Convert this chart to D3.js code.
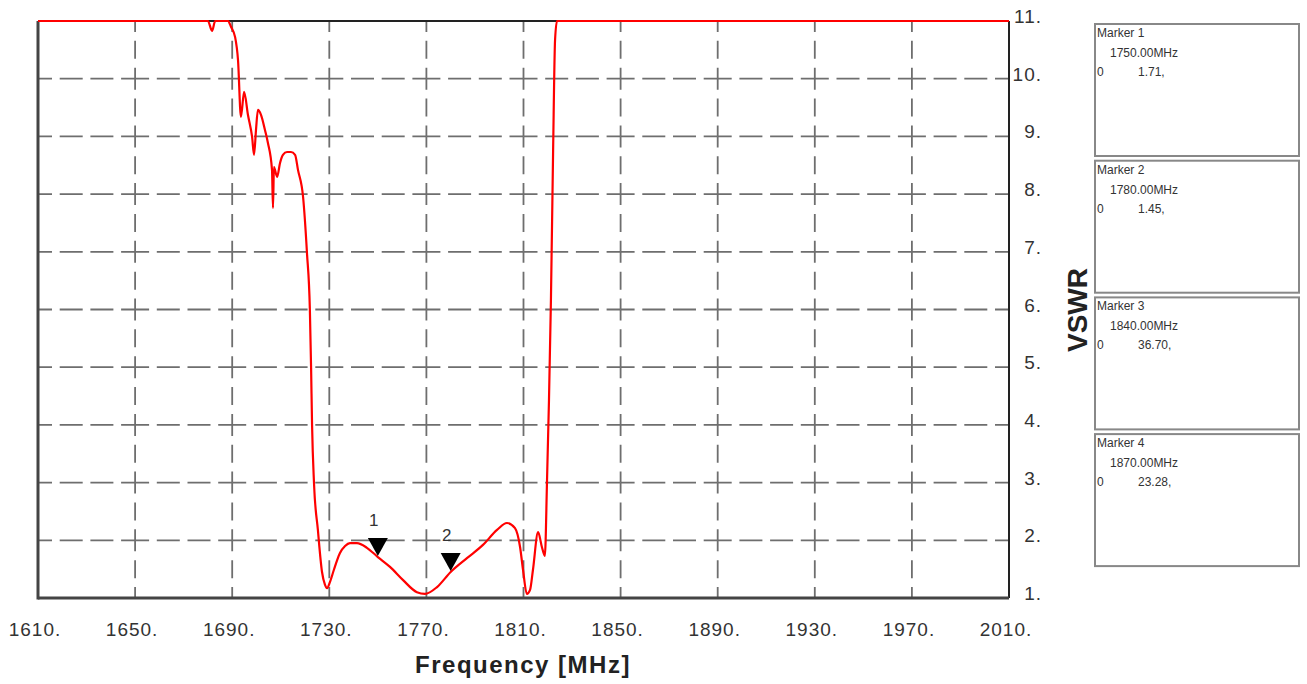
<!DOCTYPE html>
<html>
<head>
<meta charset="utf-8">
<script src="https://cdn.jsdelivr.net/npm/d3@7"></script>
<style>
	body { margin: 0; background: #fff; }
	svg { display: block; }
</style>
</head>
<body>
<script>
const width = 1307,
	height = 684

// measured trace: frequency (MHz) and VSWR
const freq = [
	1610, 1650, 1680, 1681.7, 1683, 1688.3, 1689.5, 1691.2, 1692.4, 1693.6, 1694.9,
	1696.5, 1698.2, 1699.0, 1699.8, 1700.6, 1701.9, 1703.5, 1704.7, 1706.4, 1706.8,
	1707.2, 1708.5, 1709.7, 1710.9, 1712.6, 1714.2, 1715.9, 1717.1, 1719.2, 1720.8,
	1722.0, 1722.5, 1722.9, 1723.7, 1725.3, 1727.0, 1728.2, 1729.1, 1730.3, 1731.9,
	1734.4, 1736.5, 1738.5, 1741.4, 1745.5, 1750.0, 1755.0, 1760.4, 1766.1, 1769.4,
	1774.4, 1780.0, 1786.7, 1793.3, 1799.1, 1803.2, 1806.5, 1808.6, 1809.8, 1811.4,
	1812.7, 1813.9, 1816.0, 1817.6, 1818.8, 1819.7, 1820.5, 1821.3, 1822.2, 1823.0,
	1823.8, 1900, 2010
]
const vswr = [
	11, 11, 11, 10.83, 11, 11, 10.9, 10.72, 10.32, 9.34, 9.77,
	9.37, 8.99, 8.68, 9.11, 9.46, 9.37, 9.11, 8.89, 8.42, 7.76,
	8.47, 8.30, 8.54, 8.68, 8.73, 8.73, 8.68, 8.42, 7.95, 6.98,
	5.99, 4.99, 4.00, 2.99, 2.18, 1.45, 1.23, 1.17, 1.28, 1.49,
	1.78, 1.90, 1.95, 1.95, 1.87, 1.71, 1.54, 1.31, 1.10, 1.07,
	1.19, 1.45, 1.69, 1.92, 2.18, 2.30, 2.21, 1.88, 1.49, 1.07,
	1.14, 1.49, 2.14, 1.88, 1.73, 3.05, 4.43, 6.16, 8.76, 10.67,
	11, 11, 11
]

const xTicks = [1610, 1650, 1690, 1730, 1770, 1810, 1850, 1890, 1930, 1970, 2010]
const yTicks = [1, 2, 3, 4, 5, 6, 7, 8, 9, 10, 11]

// markers drawn on the trace
const markerFreq = [1750, 1780]
const markerVal = [1.71, 1.45]
const markerLabel = ['1', '2']

// marker readout boxes
const boxTitle = ['Marker 1', 'Marker 2', 'Marker 3', 'Marker 4']
const boxFreq = ['1750.00MHz', '1780.00MHz', '1840.00MHz', '1870.00MHz']
const boxValue = ['1.71,', '1.45,', '36.70,', '23.28,']

const plot = { left: 38, right: 1009, top: 21, bottom: 598 }

const svg = d3.select('body').append('svg')
	.attr('width', width)
	.attr('height', height)
	.style('font-family', '"Liberation Sans", Arial, sans-serif')

const x = d3.scaleLinear().domain([1610, 2010]).range([plot.left, plot.right])
const y = d3.scaleLinear().domain([1, 11]).range([plot.bottom, plot.top])

// dashed grid, one segment per cell so each crossing gets a solid "+"
function cellDash(L, half, n, dash) {
	const gap = (L - 2 * half - n * dash) / (n + 1)
	const parts = [half]
	for (let i = 0; i < n; i++) parts.push(gap, dash)
	parts.push(gap, half)
	return parts.join(',')
}

const grid = svg.append('g')
	.attr('stroke', '#6e6e6e')
	.attr('stroke-width', 1.8)
	.attr('fill', 'none')

yTicks.slice(1, -1).forEach(v => {
	for (let i = 0; i < xTicks.length - 1; i++) {
		const a = x(xTicks[i]), b = x(xTicks[i + 1])
		grid.append('line')
			.attr('x1', a).attr('x2', b)
			.attr('y1', y(v)).attr('y2', y(v))
			.attr('stroke-dasharray', cellDash(b - a, 14, 2, 23))
	}
})
xTicks.slice(1, -1).forEach(f => {
	for (let i = 0; i < yTicks.length - 1; i++) {
		const a = y(yTicks[i + 1]), b = y(yTicks[i])
		grid.append('line')
			.attr('x1', x(f)).attr('x2', x(f))
			.attr('y1', a).attr('y2', b)
			.attr('stroke-dasharray', cellDash(b - a, 11, 1, 18))
	}
})

// frame
svg.append('line')
	.attr('x1', plot.left).attr('x2', plot.right)
	.attr('y1', plot.top).attr('y2', plot.top)
	.attr('stroke', '#222').attr('stroke-width', 2)
svg.append('line')
	.attr('x1', plot.right).attr('x2', plot.right)
	.attr('y1', plot.top).attr('y2', plot.bottom)
	.attr('stroke', '#222').attr('stroke-width', 2)
svg.append('line')
	.attr('x1', plot.left).attr('x2', plot.left)
	.attr('y1', plot.top).attr('y2', plot.bottom + 1.5)
	.attr('stroke', '#444').attr('stroke-width', 3)
svg.append('line')
	.attr('x1', plot.left).attr('x2', plot.right)
	.attr('y1', plot.bottom).attr('y2', plot.bottom)
	.attr('stroke', '#444').attr('stroke-width', 3)

// trace
const pts = freq.map((f, i) => [f, vswr[i]])
const line = d3.line()
	.x(d => x(d[0]))
	.y(d => y(d[1]))
	.curve(d3.curveMonotoneX)

svg.append('path')
	.datum(pts)
	.attr('fill', 'none')
	.attr('stroke', '#f00')
	.attr('stroke-width', 2.2)
	.attr('stroke-linejoin', 'round')
	.attr('d', line)

// marker triangles + numbers
markerFreq.forEach((f, i) => {
	const mx = x(f), my = y(markerVal[i])
	svg.append('path')
		.attr('d', `M${mx - 10},${my - 19}L${mx + 10},${my - 19}L${mx},${my - 1}Z`)
		.attr('fill', '#000')
	svg.append('text')
		.attr('x', mx - 4)
		.attr('y', my - 31)
		.attr('text-anchor', 'middle')
		.style('font-size', '17px')
		.style('fill', '#333')
		.text(markerLabel[i])
})

// tick labels
svg.append('g')
	.selectAll('text')
	.data(xTicks)
	.join('text')
	.attr('x', d => x(d) - 3)
	.attr('y', 636)
	.attr('text-anchor', 'middle')
	.style('font-size', '19px')
	.style('letter-spacing', '1px')
	.style('fill', '#333')
	.text(d => d + '.')

svg.append('g')
	.selectAll('text')
	.data(yTicks)
	.join('text')
	.attr('x', 1042)
	.attr('y', d => y(d) + 2)
	.attr('text-anchor', 'end')
	.style('font-size', '19px')
	.style('letter-spacing', '1px')
	.style('fill', '#333')
	.text(d => d + '.')

// axis titles
svg.append('text')
	.attr('x', 523)
	.attr('y', 673)
	.attr('text-anchor', 'middle')
	.style('font-size', '24px')
	.style('font-weight', 'bold')
	.style('letter-spacing', '1.5px')
	.style('fill', '#222')
	.text('Frequency [MHz]')

svg.append('text')
	.attr('transform', 'translate(1087,310) rotate(-90)')
	.attr('text-anchor', 'middle')
	.style('font-size', '28px')
	.style('font-weight', 'bold')
	.style('fill', '#222')
	.text('VSWR')

// readout boxes on the right
const boxes = svg.append('g')
boxTitle.forEach((t, i) => {
	const top = 24 + i * 136.7
	const g = boxes.append('g').attr('transform', `translate(1095,${top})`)
	g.append('rect')
		.attr('x', 0).attr('y', 0)
		.attr('width', 204).attr('height', 132)
		.attr('fill', '#fff')
		.attr('stroke', '#888')
		.attr('stroke-width', 2)
	g.append('text').attr('x', 2).attr('y', 13)
		.style('font-size', '12px').style('fill', '#333')
		.text(t)
	g.append('text').attr('x', 15).attr('y', 33)
		.style('font-size', '12px').style('fill', '#333')
		.text(boxFreq[i])
	g.append('text').attr('x', 2).attr('y', 52)
		.style('font-size', '12px').style('fill', '#333')
		.text('0')
	g.append('text').attr('x', 43).attr('y', 52)
		.style('font-size', '12px').style('fill', '#333')
		.text(boxValue[i])
})
</script>
</body>
</html>
